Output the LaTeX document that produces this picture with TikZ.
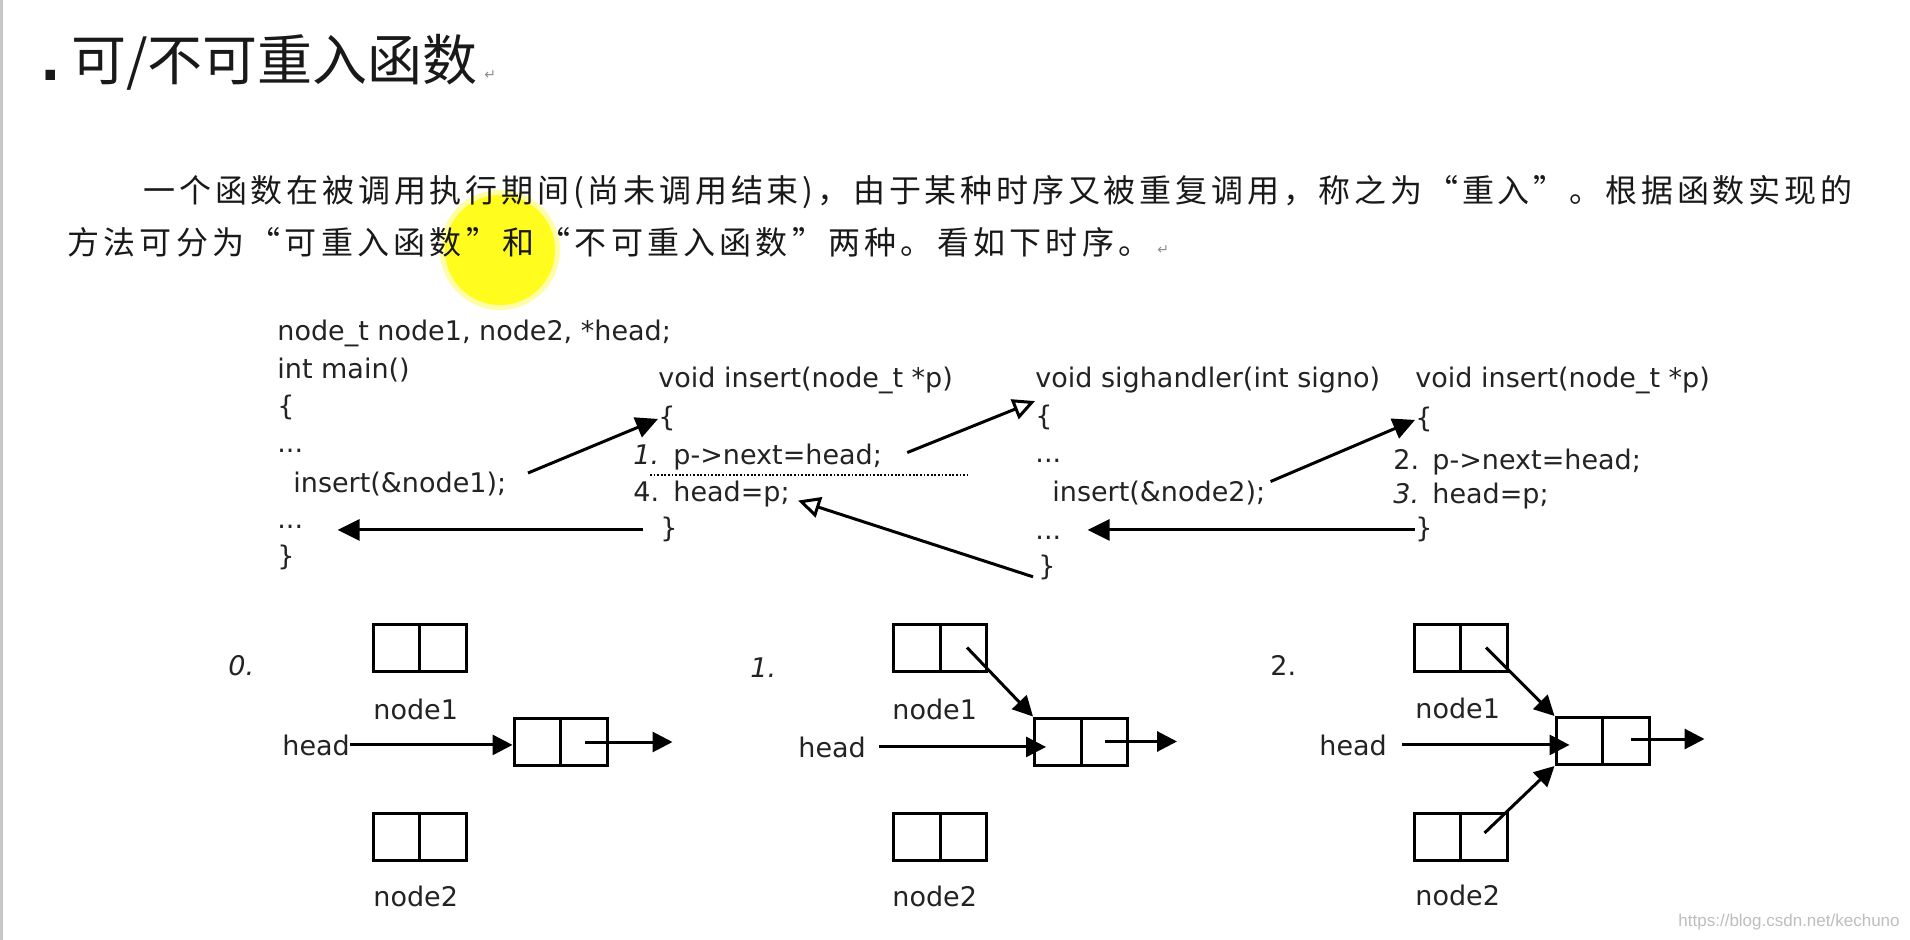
\documentclass[tikz,border=0pt]{standalone}
\usepackage{fontspec}
\setmainfont{DejaVu Sans}
\newfontfamily\codefont{DejaVu Sans}
\newfontfamily\cjk{Noto Sans CJK SC}
\newfontfamily\wmfont{Liberation Sans}
\usetikzlibrary{arrows.meta}
\definecolor{txt}{RGB}{25,25,25}
\definecolor{codetxt}{RGB}{35,35,35}
\definecolor{hl}{RGB}{255,252,30}
\definecolor{wm}{RGB}{190,190,190}
\makeatletter
\def\spreadtext#1{\sprd@first#1\relax}
\def\sprd@first#1{#1\sprd@rest}
\def\sprd@rest#1{\ifx#1\relax\else\hfill#1\expandafter\sprd@rest\fi}
\makeatother
\tikzset{
  code/.style={font=\codefont\fontsize{13.5pt}{16pt}\selectfont, inner sep=0pt, anchor=base west, text=codetxt},
  para/.style={font=\cjk\fontsize{16pt}{18pt}\selectfont, inner sep=0pt, anchor=west, text=txt},
  retmark/.style={font=\codefont\fontsize{7pt}{8pt}\selectfont, inner sep=0pt, anchor=west, text=black!45},
  fa/.style={line width=1.5pt, -{Triangle[length=11pt,width=10.5pt]}},
  oa/.style={line width=1.5pt, -{Triangle[open,length=11pt,width=10.5pt]}},
  la/.style={line width=1.5pt, -{Triangle[length=10pt,width=10pt]}},
  lbox/.style={draw, line width=1.5pt, minimum width=46.5pt, minimum height=23.5pt, inner sep=0pt},
  bline/.style={line width=1.5pt},
  dotline/.style={line width=1.4pt, dash pattern=on 0.9pt off 0.9pt}
}
\newcommand\listcell[2]{\node[lbox] (#1) at (#2) {}; \draw[bline] (#1.north) -- (#1.south);}
\begin{document}
\begin{tikzpicture}[x=0.5pt,y=-0.5pt]
\useasboundingbox (0,0) rectangle (1910,940);
\fill[white] (0,0) rectangle (1910,940);
\fill[black!22] (0,0) rectangle (3,940);
% cursor highlight
\fill[hl, opacity=0.4] (500,250) circle (60);
\fill[hl] (500,250) circle (55);
% title
\node[anchor=base west, inner sep=0pt, font=\codefont\bfseries\fontsize{27pt}{30pt}\selectfont, text=txt] (tdot) at (40,81) {.};
\node[anchor=base west, inner sep=0pt, font=\cjk\fontsize{27.5pt}{30pt}\selectfont, text=txt] (title) at (71,81) {可/不可重入函数};
\node[retmark] (tret) at (484,75) {↵};
% paragraph
\node[para] (p1) at (143,192) {\hbox to 854.5pt{\spreadtext{一个函数在被调用执行期间(尚未调用结束)，由于某种时序又被重复调用，称之为“重入”。根据函数实现的}}};
\node[para] (p2) at (67,242) {\hbox to 541.5pt{\spreadtext{方法可分为“可重入函数”和“不可重入函数”两种。看如下时序。}}};
\node[retmark] (pret) at (1157,250) {↵};
% main
\node[code] (mdecl) at (277,341) {node\_t node1, node2, *head;};
\node[code] (mmain) at (277,379) {int main()};
\node[code] (mob) at (277,416) {\{};
\node[code] (md1) at (277,453) {...};
\node[code] (mins) at (293,493) {insert(\&node1);};
\node[code] (md2) at (277,529) {...};
\node[code] (mcb) at (277,566) {\}};
% insert 1
\node[code] (i1h) at (658,388) {void insert(node\_t *p)};
\node[code] (i1ob) at (658,427) {\{};
\node[code] (i1n1) at (633,465) {\itshape 1.};
\node[code] (i1l1) at (673,465) {p->next=head;};
\node[code] (i1n4) at (633,502) {4.};
\node[code] (i1l4) at (673,502) {head=p;};
\node[code] (i1cb) at (660,538) {\}};
\draw[dotline] (650,475) -- (967,475);
% sighandler
\node[code] (sh) at (1035,388) {void sighandler(int signo)};
\node[code] (sob) at (1035,426) {\{};
\node[code] (sd1) at (1035,463) {...};
\node[code] (sins) at (1052,502) {insert(\&node2);};
\node[code] (sd2) at (1035,539) {...};
\node[code] (scb) at (1038,575) {\}};
% insert 2
\node[code] (i2h) at (1415,388) {void insert(node\_t *p)};
\node[code] (i2ob) at (1415,428) {\{};
\node[code] (i2n2) at (1393,470) {2.};
\node[code] (i2l1) at (1432,470) {p->next=head;};
\node[code] (i2n3) at (1393,503) {\itshape 3.};
\node[code] (i2l3) at (1432,503) {head=p;};
\node[code] (i2cb) at (1415,538) {\}};
% call / return arrows
\coordinate (a1s) at (528,473);
\draw[fa] (a1s) -- (i1ob.west);
\draw[fa] ([xshift=-8.5pt]i1cb.west) -- ([xshift=17pt]i1cb.west -| md2.east);
\draw[oa] ([xshift=12.5pt,yshift=2.5pt]i1l1.east) -- ([yshift=2pt]sob.north west);
\draw[oa] ([xshift=-2.5pt,yshift=1.5pt]scb.south west) -- ([xshift=4pt,yshift=-3pt]i1l4.east);
\draw[fa] ([xshift=2.5pt,yshift=6pt]sins.east) -- (i2ob.west);
\draw[fa] (i2cb.west) -- ([xshift=13pt]i2cb.west -| sd2.east);
% ---------- diagram 0 ----------
\node[code] (z0) at (228,675) {\itshape 0.};
\listcell{z0n1}{419.5,647.5}
\node[code] (z0n1l) at (373,719) {node1};
\listcell{z0h}{560.5,742}
\node[code] (z0hl) at (282,755) {head};
\listcell{z0n2}{419.5,836.5}
\node[code] (z0n2l) at (373,906) {node2};
\draw[la] (z0hl.east) -- (z0hl.east -| z0h.west);
\draw[la] ([xshift=12pt]z0h.center) -- ([xshift=56pt]z0h.center);
% ---------- diagram 1 ----------
\node[code] (z1) at (750,677) {\itshape 1.};
\listcell{z1n1}{940,647.5}
\node[code] (z1n1l) at (892,719) {node1};
\listcell{z1h}{1081,741.5}
\node[code] (z1hl) at (798,757) {head};
\listcell{z1n2}{940,836.5}
\node[code] (z1n2l) at (892,906) {node2};
\draw[la] ([xshift=6.5pt]z1hl.east) -- ([xshift=6.5pt]z1hl.east -| z1h.west);
\draw[la] ([xshift=12pt]z1h.center) -- ([xshift=48pt]z1h.center);
\draw[la] ([xshift=13.5pt]z1n1.center) -- (z1h.north west);
% ---------- diagram 2 ----------
\node[code] (z2) at (1270,675) {2.};
\listcell{z2n1}{1460.5,647.5}
\node[code] (z2n1l) at (1415,718) {node1};
\listcell{z2h}{1602.5,741}
\node[code] (z2hl) at (1319,755) {head};
\listcell{z2n2}{1460.5,837}
\node[code] (z2n2l) at (1415,905) {node2};
\draw[la] ([xshift=7.5pt]z2hl.east) -- ([xshift=7.5pt]z2hl.east -| z2h.west);
\draw[la] ([xshift=14pt,yshift=1pt]z2h.center) -- ([xshift=51pt,yshift=1pt]z2h.center);
\draw[la] ([xshift=12.75pt]z2n1.center) -- (z2h.north west);
\draw[la] ([xshift=12pt,yshift=2pt]z2n2.center) -- (z2h.south west);
% watermark
\node[font=\wmfont\fontsize{8.5pt}{10pt}\selectfont, text=wm, anchor=east, inner sep=0pt] (wmk) at (1900,922) {https://blog.csdn.net/kechuno};
\end{tikzpicture}
\end{document}
